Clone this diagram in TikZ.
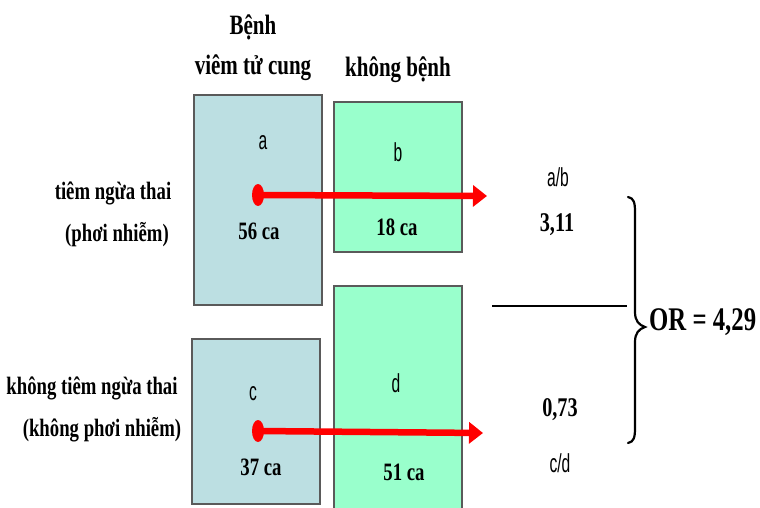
\documentclass[tikz,border=0pt]{standalone}
\usepackage{fontspec}
\setmainfont{Liberation Serif}[FakeStretch=0.75]
\newfontfamily\narrowsans{Liberation Sans}[FakeStretch=0.6]
\usetikzlibrary{arrows.meta,shapes.geometric}
\definecolor{casefill}{RGB}{188,223,226}
\definecolor{ctrlfill}{RGB}{153,255,204}
\definecolor{boxedge}{RGB}{90,90,90}
\definecolor{ratioline}{RGB}{255,0,0}
\tikzset{
  cellbox/.style={draw=boxedge, line width=1.3pt, inner sep=0pt},
  casebox/.style={cellbox, fill=casefill},
  ctrlbox/.style={cellbox, fill=ctrlfill},
  head/.style={font=\fontsize{28}{29}\selectfont\bfseries, inner sep=0pt},
  rowlab/.style={font=\fontsize{25}{26}\selectfont\bfseries, inner sep=0pt},
  count/.style={font=\fontsize{25}{26}\selectfont\bfseries, inner sep=0pt},
  oddsval/.style={font=\fontsize{27}{28}\selectfont\bfseries, inner sep=0pt},
  letter/.style={font=\fontsize{26}{26}\selectfont\narrowsans, inner sep=0pt},
  ratioarrow/.style={ratioline, line width=6.5pt, -{Triangle[length=14pt,width=21pt]}},
  ratiodot/.style={ellipse, fill=ratioline, minimum width=12pt, minimum height=22pt, inner sep=0pt},
}
\begin{document}
\begin{tikzpicture}[x=1pt,y=-1pt]
\useasboundingbox (0,0) rectangle (760,508);

% column headings
\node[head] (h1) at (253,27) {Bệnh};
\node[head] (h2) at (253,68) {viêm tử cung};
\node[head] (h3) at (398,70) {không bệnh};

% row labels
\node[rowlab] (r1) at (113,193) {tiêm ngừa thai};
\node[rowlab] (r1b) at (117,235) {(phơi nhiễm)};
\node[rowlab] (r2) at (92,388) {không tiêm ngừa thai};
\node[rowlab] (r2b) at (102,430) {(không phơi nhiễm)};

% the four cells
\node[casebox, minimum width=128pt, minimum height=210pt] (A) at (258,200) {};
\node[ctrlbox, minimum width=128pt, minimum height=150pt] (B) at (398,177) {};
\node[casebox, minimum width=128pt, minimum height=165pt] (C) at (256,421.5) {};
\node[ctrlbox, minimum width=128pt, minimum height=240pt] (D) at (398,406) {};

\node[letter] (la) at (263,143) {a};
\node[letter] (lb) at (398,152) {b};
\node[letter] (lc) at (253,394) {c};
\node[letter] (ld) at (396,383) {d};

\node[count] (na) at (259,231) {56 ca};
\node[count] (nb) at (397,227) {18 ca};
\node[count] (nc) at (261,467) {37 ca};
\node[count] (nd) at (404,472) {51 ca};

% odds in each row
\node[letter] (ab) at (558,177) {a/b};
\node[oddsval] (vab) at (557,225) {3,11};
\node[oddsval] (vcd) at (560,410) {0,73};
\node[letter] (cd) at (560,463) {c/d};

\coordinate (fl) at (492,306);
\coordinate (fr) at (627,306);
\draw[line width=2.8pt] (fl) -- (fr);

% arrows from each row to its odds
\node[ratiodot] (d1) at (258,195) {};
\coordinate (t1) at (487,196);
\draw[ratioarrow] (d1.center) -- (t1);
\node[ratiodot] (d2) at (258,431) {};
\coordinate (t2) at (483,433);
\draw[ratioarrow] (d2.center) -- (t2);

% brace and result
\draw[line width=2.2pt, line cap=round]
  (628,197) .. controls (634,198) and (635,203) .. (635,212)
  -- (635,312) .. controls (635,321) and (639,325) .. (645,327)
  .. controls (639,329) and (635,333) .. (635,342)
  -- (635,428) .. controls (635,437) and (634,442) .. (628,443);
\node[font=\fontsize{33}{34}\selectfont\bfseries, inner sep=0pt, anchor=west] (or) at (649,322) {OR = 4,29};
\end{tikzpicture}
\end{document}
